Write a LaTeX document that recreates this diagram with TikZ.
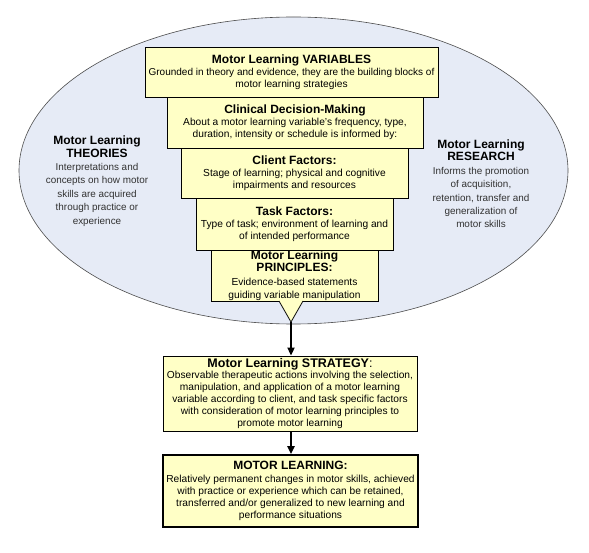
\documentclass[tikz,border=0pt]{standalone}
\usepackage{fontspec}
\setmainfont{Liberation Sans}
\usetikzlibrary{arrows.meta,shapes.geometric}
\definecolor{ellfill}{RGB}{230,235,246}
\definecolor{boxfill}{RGB}{255,255,198}
\definecolor{bodygray}{RGB}{50,50,50}
\tikzset{
  ybox/.style={draw=black, line width=0.9pt, fill=boxfill, inner sep=0pt, align=center},
  sidetext/.style={align=center, inner sep=0pt, font=\fontsize{9.9}{13.4}\selectfont, text=bodygray},
  flowarrow/.style={-{Triangle[length=8pt,width=7pt]}, line width=2pt},
}
\newcommand{\bodyf}{\fontsize{10.2}{11.6}\selectfont}
\newcommand{\ttlf}{\fontsize{12}{14}\selectfont\bfseries}
\newcommand{\sttl}[1]{{\fontsize{12}{14}\selectfont\bfseries\color{black}#1}}
\begin{document}
\begin{tikzpicture}[x=1pt,y=-1pt]
\useasboundingbox (0,0) rectangle (589,553);
\fill[white] (0,0) rectangle (589,553);
\node[ellipse, draw=black!70, line width=0.6pt, fill=ellfill, minimum width=549pt, minimum height=307pt, inner sep=0pt] (ell) at (293.5,170.5) {};
% side texts
\node[sidetext] (theo) at (97,181) {\sttl{Motor Learning}\\[-1pt]\sttl{THEORIES}\\Interpretations and\\concepts on how motor\\skills are acquired\\through practice or\\experience};
\node[sidetext] (res) at (481,184) {\sttl{Motor Learning}\\[-1pt]\sttl{RESEARCH}\\Informs the promotion\\of acquisition,\\retention, transfer and\\generalization of\\motor skills};
% stacked boxes
\node[ybox, minimum width=293pt, minimum height=50pt] (var) at (291.5,72) {{\ttlf Motor Learning VARIABLES}\\{\fontsize{10}{11.6}\selectfont Grounded in theory and evidence, they are the building blocks of}\\{\bodyf motor learning strategies}};
\node[ybox, minimum width=256pt, minimum height=51pt] (cdm) at (295,122.5) {{\ttlf Clinical Decision-Making}\\{\bodyf About a motor learning variable's frequency, type,}\\{\bodyf duration, intensity or schedule is informed by:}};
\node[ybox, minimum width=227pt, minimum height=50pt] (cli) at (294.5,173.5) {{\ttlf Client Factors:}\\{\bodyf Stage of learning; physical and cognitive}\\{\bodyf impairments and resources}};
\node[ybox, minimum width=197pt, minimum height=52pt] (task) at (294.5,224) {{\ttlf Task Factors:}\\{\bodyf Type of task; environment of learning and}\\{\bodyf of intended performance}};
\node[ybox, minimum width=167pt, minimum height=51pt] (prin) at (294.5,275.5) {{\fontsize{12}{13}\selectfont\bfseries Motor Learning}\\[0.5pt]{\fontsize{12}{13}\selectfont\bfseries PRINCIPLES:}\\[1.5pt]{\fontsize{10.2}{13.5}\selectfont Evidence-based statements}\\[1.5pt]{\fontsize{10.2}{13}\selectfont guiding variable manipulation}};
% funnel tip
\coordinate (tipL) at (279,301);
\coordinate (tipR) at (303,301);
\coordinate (tip) at (291,322);
\draw[fill=boxfill, line width=0.8pt, line join=miter] (tipL) -- (tip) -- (tipR);
% strategy
\node[ybox, minimum width=254pt, minimum height=75pt] (strat) at (290,393.5) {{\fontsize{12.5}{12.5}\selectfont\bfseries Motor Learning STRATEGY}{\fontsize{12.5}{12.5}\selectfont :}\\[-1pt]{\bodyf Observable therapeutic actions involving the selection,}\\{\bodyf manipulation, and application of a motor learning}\\{\bodyf variable according to client, and task specific factors}\\{\bodyf with consideration of motor learning principles to}\\{\bodyf promote motor learning}};
\node[ybox, line width=1.8pt, minimum width=255pt, minimum height=72pt] (ml) at (290.5,491) {{\ttlf MOTOR LEARNING:}\\[0.5pt]{\bodyf Relatively permanent changes in motor skills, achieved}\\{\bodyf with practice or experience which can be retained,}\\{\bodyf transferred and/or generalized to new learning and}\\{\bodyf performance situations}};
% arrows
\draw[flowarrow] (tip) -- (tip |- strat.north);
\draw[flowarrow] (strat.south -| tip) -- (tip |- ml.north);
\end{tikzpicture}
\end{document}
